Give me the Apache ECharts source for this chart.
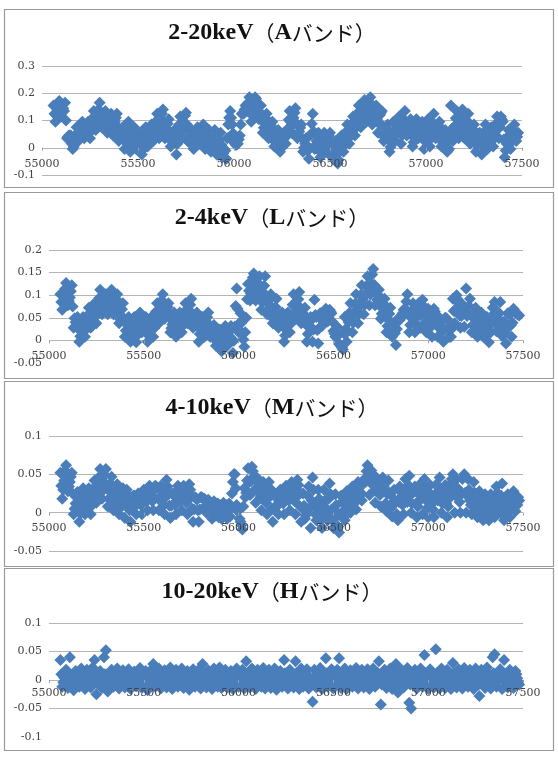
<!DOCTYPE html>
<html>
<head>
<meta charset="utf-8">
<script src="https://cdn.jsdelivr.net/npm/echarts@6/dist/echarts.min.js"></script>
<style>
  html, body { margin: 0; padding: 0; background: #fff; }
  #chart { width: 558px; height: 765px; }
</style>
</head>
<body>
<div id="chart"></div>
<script>
// observation days (MJD), one row per 100 days, shared by all four bands
const mjd = [
  55060,55065,55070,55075,55080,55085,55090,55095,55100,55105,55110,55115,55120,55125,55130,55135,55140,55145,55150,55155,
  55160,55165,55170,55175,55180,55185,55190,55195,55200,55205,55210,55215,55220,55225,55230,55235,55240,55245,55250,55255,
  55260,55265,55270,55275,55280,55285,55290,55295,55300,55305,55310,55315,55320,55325,55330,55335,55340,55345,55350,55355,
  55360,55365,55370,55375,55380,55385,55390,55395,55400,55405,55410,55415,55420,55425,55430,55435,55440,55445,55450,55455,
  55460,55465,55470,55475,55480,55485,55490,55495,55500,55505,55510,55515,55520,55525,55530,55535,55540,55545,55550,55555,
  55560,55565,55570,55575,55580,55585,55590,55595,55600,55605,55610,55615,55620,55625,55630,55635,55640,55645,55650,55655,
  55660,55665,55670,55675,55680,55685,55690,55695,55700,55705,55710,55715,55720,55725,55730,55735,55740,55745,55750,55755,
  55760,55765,55770,55775,55780,55785,55790,55795,55800,55805,55810,55815,55820,55825,55830,55835,55840,55845,55850,55855,
  55860,55865,55870,55875,55880,55885,55890,55895,55900,55905,55910,55915,55920,55925,55930,55935,55940,55945,55950,55955,
  55960,55965,55970,55975,55980,55985,55990,55995,56000,56005,56010,56015,56020,56025,56030,56035,56040,56045,56050,56055,
  56060,56065,56070,56075,56080,56085,56090,56095,56100,56105,56110,56115,56120,56125,56130,56135,56140,56145,56150,56155,
  56160,56165,56170,56175,56180,56185,56190,56195,56200,56205,56210,56215,56220,56225,56230,56235,56240,56245,56250,56255,
  56260,56265,56270,56275,56280,56285,56290,56295,56300,56305,56310,56315,56320,56325,56330,56335,56340,56345,56350,56355,
  56360,56365,56370,56375,56380,56385,56390,56395,56400,56405,56410,56415,56420,56425,56430,56435,56440,56445,56450,56455,
  56460,56465,56470,56475,56480,56485,56490,56495,56500,56505,56510,56515,56520,56525,56530,56535,56540,56545,56550,56555,
  56560,56565,56570,56575,56580,56585,56590,56595,56600,56605,56610,56615,56620,56625,56630,56635,56640,56645,56650,56655,
  56660,56665,56670,56675,56680,56685,56690,56695,56700,56705,56710,56715,56720,56725,56730,56735,56740,56745,56750,56755,
  56760,56765,56770,56775,56780,56785,56790,56795,56800,56805,56810,56815,56820,56825,56830,56835,56840,56845,56850,56855,
  56860,56865,56870,56875,56880,56885,56890,56895,56900,56905,56910,56915,56920,56925,56930,56935,56940,56945,56950,56955,
  56960,56965,56970,56975,56980,56985,56990,56995,57000,57005,57010,57015,57020,57025,57030,57035,57040,57045,57050,57055,
  57060,57065,57070,57075,57080,57085,57090,57095,57100,57105,57110,57115,57120,57125,57130,57135,57140,57145,57150,57155,
  57160,57165,57170,57175,57180,57185,57190,57195,57200,57205,57210,57215,57220,57225,57230,57235,57240,57245,57250,57255,
  57260,57265,57270,57275,57280,57285,57290,57295,57300,57305,57310,57315,57320,57325,57330,57335,57340,57345,57350,57355,
  57360,57365,57370,57375,57380,57385,57390,57395,57400,57405,57410,57415,57420,57425,57430,57435,57440,57445,57450,57455,
  57460,57465,57470,57475,57480
];

// 2-20keV (A band)
const bandA = [
  0.155,0.125,0.095,0.118,0.14,0.163,0.172,0.15,0.115,0.13,0.145,0.135,0.165,0.10,0.035,0.04,0.045,0.045,0.045,0.015,
  -0.005,0.003,0.02,0.048,0.075,0.05,0.025,0.045,0.065,0.08,0.095,0.065,0.035,0.053,0.07,0.083,0.095,0.065,0.035,0.06,
  0.085,0.11,0.135,0.10,0.065,0.09,0.115,0.14,0.165,0.12,0.075,0.09,0.105,0.12,0.135,0.095,0.055,0.073,0.09,0.108,
  0.125,0.085,0.045,0.07,0.095,0.11,0.125,0.075,0.025,0.04,0.055,0.045,0.075,0.035,-0.005,0.02,0.045,0.07,0.095,0.04,
  -0.015,0.008,0.03,0.053,0.075,0.035,-0.005,0.008,0.02,0.038,0.055,0.015,-0.025,-0.007,0.01,0.043,0.075,0.04,0.005,0.03,
  0.055,0.07,0.085,0.055,0.025,0.048,0.07,0.098,0.125,0.08,0.035,0.065,0.095,0.125,0.14,0.095,0.035,0.053,0.07,0.088,
  0.105,0.055,0.005,0.023,0.04,0.053,0.065,0.02,-0.025,0.015,0.055,0.085,0.115,0.075,0.035,0.063,0.09,0.118,0.128,0.085,
  0.025,0.02,0.045,0.035,0.065,0.03,-0.005,0.015,0.035,0.055,0.075,0.045,0.015,0.035,0.055,0.07,0.085,0.04,-0.005,0.008,
  0.02,0.043,0.065,0.025,-0.015,-0.002,0.01,0.038,0.065,0.02,-0.025,-0.013,0.0,0.028,0.055,0.01,-0.035,-0.02,-0.005,-0.01,
  -0.04,0.035,0.085,0.11,0.135,0.11,0.085,0.053,0.02,0.015,0.01,0.013,0.015,0.03,0.045,0.085,0.125,0.125,0.125,0.14,
  0.155,0.145,0.135,0.165,0.185,0.145,0.095,0.118,0.14,0.168,0.185,0.18,0.165,0.135,0.105,0.13,0.155,0.105,0.055,0.073,
  0.09,0.108,0.125,0.08,0.035,0.05,0.065,0.08,0.095,0.05,0.005,0.02,0.035,0.05,0.065,0.025,-0.015,-0.002,0.01,0.033,
  0.055,0.05,0.015,0.043,0.07,0.103,0.135,0.095,0.055,0.083,0.11,0.128,0.145,0.09,0.035,0.048,0.06,0.073,0.085,0.035,
  -0.015,0.0,0.015,0.035,0.035,-0.01,-0.04,-0.002,0.05,0.088,0.125,0.06,-0.005,0.01,0.025,0.04,0.055,0.01,-0.035,-0.02,
  -0.005,0.025,0.055,0.02,-0.015,0.008,0.03,0.043,0.055,0.01,-0.035,-0.02,-0.005,0.01,0.025,-0.025,-0.058,-0.045,-0.015,0.015,
  0.045,0.015,-0.015,0.01,0.035,0.06,0.085,0.05,0.015,0.04,0.065,0.09,0.115,0.08,0.045,0.073,0.10,0.128,0.155,0.115,
  0.075,0.103,0.13,0.153,0.175,0.135,0.095,0.123,0.15,0.168,0.185,0.135,0.085,0.103,0.12,0.138,0.155,0.105,0.055,0.088,
  0.12,0.128,0.135,0.08,0.025,0.038,0.05,0.068,0.085,0.035,-0.015,0.003,0.02,0.058,0.095,0.06,0.025,0.053,0.08,0.098,
  0.115,0.065,0.015,0.045,0.075,0.105,0.135,0.09,0.045,0.06,0.075,0.09,0.105,0.055,0.005,0.02,0.035,0.07,0.105,0.07,
  0.035,0.055,0.075,0.07,0.095,0.045,-0.005,0.023,0.05,0.078,0.105,0.055,0.005,0.033,0.06,0.093,0.125,0.08,0.035,0.053,
  0.07,0.083,0.095,0.05,0.005,0.02,0.035,0.05,0.065,0.025,-0.015,-0.01,-0.005,0.04,0.155,0.07,0.025,0.053,0.08,0.108,
  0.135,0.085,0.035,0.063,0.09,0.123,0.14,0.095,0.035,0.053,0.07,0.098,0.125,0.07,0.015,0.033,0.05,0.068,0.085,0.035,
  -0.015,0.008,0.03,0.043,0.055,0.015,-0.025,0.005,0.035,0.06,0.085,0.04,-0.005,0.008,0.02,0.048,0.075,0.04,0.005,0.033,
  0.06,0.088,0.115,0.075,0.035,0.075,0.115,0.105,0.095,0.03,-0.035,-0.01,0.015,0.04,0.065,0.03,-0.005,0.02,0.045,0.065,
  0.085,0.055,0.025,0.04,0.055
];

// 2-4keV (L band)
const bandL = [
  0.102,0.085,0.068,0.084,0.10,0.114,0.127,0.103,0.078,0.087,0.095,0.109,0.122,0.075,0.028,0.049,0.04,0.031,0.052,0.025,
  -0.003,0.009,0.02,0.036,0.052,0.03,0.008,0.024,0.04,0.056,0.072,0.05,0.028,0.042,0.055,0.069,0.082,0.06,0.038,0.057,
  0.075,0.094,0.112,0.085,0.058,0.072,0.085,0.094,0.102,0.08,0.058,0.069,0.08,0.096,0.112,0.085,0.058,0.069,0.08,0.091,
  0.102,0.07,0.038,0.047,0.055,0.069,0.082,0.045,0.008,0.022,0.035,0.044,0.052,0.025,-0.003,0.011,0.025,0.039,0.052,0.024,
  -0.004,0.011,0.025,0.044,0.062,0.04,0.018,0.032,0.045,0.049,0.052,0.025,-0.003,0.011,0.025,0.039,0.052,0.03,0.008,0.027,
  0.045,0.064,0.082,0.06,0.038,0.057,0.075,0.089,0.102,0.075,0.048,0.057,0.065,0.074,0.082,0.05,0.018,0.027,0.035,0.049,
  0.062,0.035,0.008,0.022,0.035,0.049,0.062,0.04,0.018,0.032,0.045,0.064,0.082,0.06,0.038,0.052,0.065,0.079,0.092,0.06,
  0.028,0.037,0.045,0.054,0.062,0.03,-0.003,0.014,0.03,0.041,0.052,0.03,0.008,0.024,0.04,0.051,0.062,0.035,0.008,0.014,
  0.02,0.027,0.034,0.011,-0.012,-0.003,0.005,0.015,0.024,0.0,-0.024,-0.007,0.01,0.021,0.032,0.01,-0.012,-0.001,0.01,0.021,
  0.032,0.0,-0.028,-0.001,0.03,0.076,0.115,0.07,0.018,0.039,0.06,0.039,0.017,0.002,-0.014,0.018,0.05,0.091,0.125,0.11,
  0.088,0.104,0.12,0.139,0.148,0.123,0.088,0.099,0.11,0.126,0.142,0.105,0.068,0.084,0.10,0.121,0.142,0.10,0.058,0.069,
  0.08,0.091,0.102,0.07,0.038,0.047,0.055,0.074,0.092,0.06,0.028,0.037,0.045,0.054,0.062,0.03,-0.003,0.011,0.025,0.044,
  0.062,0.04,0.018,0.037,0.055,0.079,0.102,0.075,0.048,0.062,0.075,0.091,0.107,0.073,0.038,0.049,0.06,0.051,0.072,0.035,
  -0.003,0.014,0.03,0.041,0.052,0.025,-0.003,0.024,0.09,0.056,0.052,0.023,-0.007,0.027,0.06,0.046,0.032,0.035,0.038,0.054,
  0.07,0.056,0.042,0.055,0.068,0.064,0.06,0.041,0.021,0.015,0.008,0.019,0.03,0.011,-0.008,-0.01,-0.012,-0.016,-0.02,0.016,
  0.052,0.025,-0.003,0.019,0.04,0.061,0.082,0.05,0.018,0.039,0.06,0.081,0.102,0.07,0.038,0.059,0.08,0.101,0.122,0.09,
  0.058,0.079,0.10,0.121,0.142,0.11,0.078,0.102,0.125,0.146,0.158,0.123,0.078,0.104,0.09,0.101,0.112,0.08,0.048,0.059,
  0.07,0.081,0.092,0.055,0.018,0.032,0.045,0.059,0.072,0.04,0.008,0.019,0.03,0.016,-0.01,0.025,0.048,0.047,0.045,0.049,
  0.052,0.06,0.068,0.069,0.07,0.086,0.102,0.06,0.018,0.034,0.05,0.066,0.082,0.05,0.018,0.037,0.055,0.069,0.082,0.055,
  0.028,0.059,0.09,0.076,0.062,0.04,0.018,0.044,0.07,0.061,0.052,0.03,0.008,0.039,0.07,0.064,0.057,0.033,0.008,0.029,
  0.05,0.046,0.042,0.02,-0.003,0.024,0.05,0.049,0.047,0.028,0.008,0.008,0.008,0.026,0.092,0.065,0.038,0.069,0.10,0.091,
  0.082,0.055,0.028,0.054,0.08,0.061,0.03,0.06,0.115,0.054,0.06,0.076,0.092,0.055,0.018,0.034,0.05,0.061,0.072,0.04,
  0.008,0.022,0.035,0.049,0.062,0.035,0.008,0.017,0.025,0.039,0.052,0.024,-0.004,0.016,0.035,0.054,0.072,0.073,0.085,0.044,
  0.02,0.034,0.047,0.06,0.085,0.042,0.01,0.026,0.042,0.018,-0.007,0.027,0.06,0.059,0.057,0.033,0.008,0.039,0.07,0.066,
  0.062,0.06,0.058,0.057,0.055
];

// 4-10keV (M band)
const bandM = [
  0.052,0.035,0.018,0.03,0.042,0.055,0.062,0.048,0.028,0.034,0.04,0.047,0.052,0.025,-0.002,0.005,0.012,0.02,0.027,0.008,
  -0.012,-0.001,0.01,0.022,0.032,0.015,-0.002,0.006,0.015,0.024,0.032,0.015,-0.002,0.009,0.02,0.032,0.042,0.028,0.013,0.024,
  0.035,0.047,0.057,0.038,0.018,0.029,0.04,0.049,0.057,0.033,0.008,0.018,0.028,0.038,0.047,0.025,0.003,0.012,0.022,0.03,
  0.037,0.018,-0.002,0.006,0.015,0.024,0.032,0.013,-0.007,0.011,0.03,0.024,0.017,0.003,-0.012,0.004,0.02,0.022,0.022,0.01,
  -0.002,0.011,0.025,0.024,0.022,0.01,-0.002,0.014,0.03,0.029,0.027,0.015,0.003,0.019,0.035,0.032,0.027,0.015,0.003,0.019,
  0.035,0.034,0.032,0.018,0.003,0.019,0.035,0.029,0.022,0.01,-0.002,0.02,0.043,0.034,0.025,0.009,-0.007,0.009,0.025,0.024,
  0.022,0.01,-0.002,0.016,0.035,0.032,0.027,0.015,0.003,0.019,0.035,0.032,0.029,0.013,-0.002,0.017,0.037,0.03,0.022,0.005,
  -0.012,0.004,0.02,0.019,0.017,0.003,-0.012,0.004,0.02,0.02,0.019,0.018,0.018,0.009,0.0,0.009,0.017,0.013,0.008,0.001,
  -0.008,0.006,0.015,0.01,-0.004,0.001,0.012,-0.006,0.01,0.003,-0.008,0.008,0.013,-0.004,0.003,0.01,-0.008,0.002,0.012,-0.005,
  0.008,0.025,0.04,0.05,0.05,0.032,0.01,0.002,0.006,-0.008,-0.012,-0.016,-0.022,0.008,0.032,0.02,0.026,0.042,0.058,0.04,
  0.023,0.041,0.06,0.054,0.047,0.03,0.013,0.029,0.045,0.042,0.037,0.02,0.003,0.021,0.04,0.034,0.027,0.013,-0.002,0.019,
  0.04,0.032,0.022,0.005,-0.012,0.006,0.025,0.023,0.019,0.009,-0.002,0.014,0.03,0.028,0.025,0.012,-0.002,0.016,0.035,0.033,
  0.029,0.016,0.003,0.021,0.04,0.037,0.032,0.015,-0.002,0.02,0.043,0.036,0.027,0.008,-0.012,0.006,0.025,0.009,-0.008,-0.003,
  0.005,0.022,0.034,0.006,-0.02,0.016,0.046,0.03,0.008,-0.002,-0.01,0.012,0.03,0.018,0.002,-0.01,-0.02,0.006,0.03,0.016,
  0.006,-0.004,-0.01,0.018,0.038,0.024,0.004,-0.01,-0.02,0.003,0.024,0.01,-0.004,-0.018,-0.026,-0.002,0.022,0.014,0.002,-0.006,
  -0.01,0.012,0.028,0.02,0.006,0.01,0.0,0.02,0.034,0.024,0.012,0.016,0.004,0.025,0.04,0.032,0.022,0.026,0.016,0.038,
  0.043,0.041,0.04,0.054,0.062,0.045,0.023,0.039,0.055,0.051,0.045,0.029,0.013,0.029,0.045,0.042,0.037,0.023,0.008,0.026,
  0.046,0.034,0.03,0.012,0.002,0.024,0.042,0.026,0.024,0.006,-0.005,0.014,0.03,0.016,0.014,-0.002,-0.01,0.014,0.034,0.02,
  0.026,0.01,-0.002,0.024,0.044,0.03,0.014,0.036,0.048,0.024,0.0,0.012,0.026,0.028,0.034,0.012,-0.006,0.008,0.024,0.03,
  0.038,0.018,-0.002,0.024,0.044,0.03,0.016,0.006,-0.006,0.016,0.036,0.024,0.012,0.004,-0.006,0.016,0.036,0.026,0.016,0.034,
  0.046,0.022,0.0,0.012,0.022,0.028,0.036,0.012,-0.006,0.008,0.018,0.028,0.038,0.044,0.05,0.026,0.0,0.022,0.044,0.032,
  0.03,0.014,0.0,0.024,0.044,0.046,0.05,0.026,0.0,0.022,0.044,0.03,0.016,0.01,-0.002,0.02,0.04,0.026,0.012,0.004,
  -0.006,0.014,0.028,0.018,0.004,-0.002,-0.01,0.008,0.024,0.014,0.0,-0.004,-0.01,0.008,0.024,0.018,0.01,0.004,-0.006,0.016,
  0.034,0.026,0.02,0.01,0.0,0.022,0.038,0.014,-0.01,0.0,0.008,0.016,0.024,0.008,-0.006,0.006,0.016,0.022,0.028,0.014,
  0.002,0.012,0.01,0.02,0.016
];

// 10-20keV (H band)
const bandH = [
  0.035,0.01,-0.012,-0.004,0.004,0.012,0.018,0.005,-0.014,-0.006,0.04,0.008,0.002,-0.008,-0.018,0.0,0.016,0.011,0.005,-0.005,
  -0.012,0.006,0.02,0.009,-0.004,-0.01,-0.016,0.002,0.018,0.01,0.003,-0.005,-0.013,0.007,0.022,0.012,0.035,0.0,-0.025,-0.006,
  0.006,0.011,0.016,0.003,-0.014,-0.006,0.04,0.01,0.052,0.005,-0.02,-0.008,0.004,0.012,0.018,0.004,-0.012,-0.005,0.002,0.009,
  0.02,0.004,-0.015,-0.006,0.005,0.012,0.017,0.002,-0.013,-0.005,0.003,0.01,0.019,0.003,-0.016,-0.007,0.006,0.011,0.015,-0.002,
  -0.011,-0.003,0.002,0.012,0.021,0.006,-0.014,-0.005,0.004,0.01,0.016,0.0,-0.018,-0.007,0.003,0.011,0.018,0.006,0.028,0.004,
  -0.012,-0.004,0.005,0.013,0.02,0.003,-0.015,-0.006,0.002,0.01,0.017,0.002,-0.013,-0.005,0.004,0.012,0.022,0.004,-0.016,-0.006,
  0.003,0.011,0.018,0.004,-0.012,-0.004,0.006,0.013,0.02,0.005,-0.014,-0.006,0.002,0.009,0.016,0.0,-0.017,-0.006,0.004,0.012,
  0.019,0.004,-0.012,-0.005,0.003,0.011,0.018,0.002,-0.015,0.006,0.028,0.012,0.005,-0.004,-0.013,0.003,0.017,0.009,0.002,-0.007,
  -0.016,0.002,0.02,0.012,0.004,-0.005,-0.012,0.006,0.022,0.004,-0.014,-0.006,0.003,0.011,0.018,0.003,-0.013,-0.004,0.005,0.01,
  0.016,0.003,-0.016,-0.006,0.002,0.012,0.02,0.005,-0.012,-0.004,0.006,0.012,0.018,0.002,-0.015,0.006,0.033,0.01,0.004,-0.005,
  -0.013,0.004,0.02,0.01,0.002,-0.006,-0.016,0.002,0.018,0.011,0.005,-0.004,-0.012,0.006,0.021,0.004,-0.015,-0.006,0.003,0.011,
  0.018,0.003,-0.014,-0.004,0.004,0.012,0.02,0.002,-0.017,-0.007,0.002,0.01,0.016,0.004,-0.012,0.008,0.035,0.012,0.004,-0.005,
  -0.015,0.002,0.018,0.01,0.003,-0.005,-0.013,0.008,0.033,0.012,0.005,-0.006,-0.016,0.003,0.02,0.005,-0.012,-0.003,0.004,0.012,
  0.019,0.004,-0.015,-0.006,0.002,-0.008,-0.038,0.003,0.018,0.004,-0.013,-0.004,0.005,0.012,0.021,0.003,-0.016,-0.006,0.003,0.01,
  0.038,0.012,-0.012,-0.004,0.004,0.011,0.019,0.003,-0.015,-0.006,0.002,0.01,0.018,0.008,0.038,0.012,-0.014,-0.005,0.005,0.011,
  0.02,0.004,-0.016,-0.006,0.003,0.01,0.017,0.003,-0.012,-0.004,0.004,0.012,0.021,0.005,-0.015,-0.006,0.002,0.01,0.018,0.002,
  -0.013,-0.004,0.005,0.012,0.019,0.004,-0.016,-0.006,0.003,0.011,0.02,0.004,-0.012,-0.005,0.004,0.012,0.033,0.006,-0.043,-0.008,
  0.002,0.01,0.018,0.004,-0.014,-0.005,0.005,0.012,0.02,0.003,-0.016,-0.006,0.003,0.011,0.028,0.006,-0.022,-0.008,0.004,0.012,
  0.018,0.003,-0.013,-0.005,0.002,0.011,0.021,0.006,-0.04,-0.008,-0.05,-0.006,0.005,0.012,0.018,0.004,-0.015,-0.006,0.003,0.011,
  0.02,0.004,-0.012,0.01,0.044,0.012,0.004,-0.005,-0.016,0.002,0.019,0.01,0.002,-0.005,-0.013,0.006,0.054,0.012,0.005,-0.006,
  -0.015,0.003,0.02,0.011,0.003,-0.005,-0.014,0.004,0.018,0.011,0.004,-0.005,-0.016,0.006,0.03,0.012,0.002,-0.004,-0.013,0.004,
  0.019,0.012,0.005,-0.005,-0.015,0.004,0.021,0.012,0.003,-0.005,-0.012,0.004,0.018,0.011,0.004,-0.006,-0.016,0.003,0.02,0.012,
  0.002,-0.008,-0.028,0.002,0.018,0.011,0.005,-0.004,-0.014,0.004,0.022,0.012,0.003,-0.005,-0.015,0.006,0.04,0.012,0.045,0.008,
  -0.012,-0.003,0.004,0.012,0.019,0.004,-0.016,0.006,0.035,0.01,0.002,-0.005,-0.013,0.004,0.018,0.012,0.005,-0.004,-0.014,0.003,
  0.016,0.01,0.003,-0.003,-0.008
];

const bands = [bandA, bandL, bandM, bandH];
const titles = [
  ['2-20keV', 'A'],
  ['2-4keV', 'L'],
  ['4-10keV', 'M'],
  ['10-20keV', 'H']
];
// y axis [min, max, interval] per panel
const yRanges = [
  [-0.1, 0.3, 0.1],
  [-0.05, 0.2, 0.05],
  [-0.05, 0.1, 0.05],
  [-0.1, 0.1, 0.05]
];

// layout of the four stacked panels
const grids = [
  { left: 42, top: 66, width: 480, height: 109 },
  { left: 49, top: 250, width: 474, height: 113 },
  { left: 49, top: 436, width: 474, height: 115 },
  { left: 49, top: 623, width: 474, height: 114 }
];
const labelMargins = [11, 10, 10, 8];
const boxes = [[4, 9, 549, 178], [4, 192, 549, 186], [4, 381, 549, 185], [4, 568, 549, 182]];
const titleY = [33, 218, 408, 592];

const labelFont = { fontFamily: 'DejaVu Serif', fontSize: 11, color: '#444' };
const titleRich = {
  a: { fontFamily: 'Liberation Serif', fontWeight: 'bold', fontSize: 24, fill: '#111' },
  b: { fontFamily: 'Noto Sans CJK JP', fontSize: 21, fill: '#111' }
};

const graphic = [];
boxes.forEach(b => {
  graphic.push({
    type: 'rect', silent: true,
    shape: { x: b[0] + 0.5, y: b[1] + 0.5, width: b[2], height: b[3] },
    style: { fill: null, stroke: '#9a9a9a', lineWidth: 1.2 }
  });
});
titles.forEach((t, i) => {
  graphic.push({
    type: 'text', silent: true, x: 272, y: titleY[i],
    style: {
      text: '{a|' + t[0] + '}{b|（}{a|' + t[1] + '}{b|バンド）}',
      rich: titleRich, align: 'center', verticalAlign: 'middle'
    }
  });
});

const chart = echarts.init(document.getElementById('chart'));

chart.setOption({
  animation: false,
  backgroundColor: '#fff',
  grid: grids,
  graphic: graphic,
  xAxis: grids.map((g, i) => {
    const r = yRanges[i];
    return {
      gridIndex: i,
      type: 'value',
      min: 55000,
      max: 57500,
      interval: 500,
      z: 10,
      position: 'bottom',
      // lift the labels up to the y = 0 line (Excel style crossing)
      offset: -g.height * (0 - r[0]) / (r[1] - r[0]),
      axisLine: { show: false, onZero: false },
      axisTick: { show: true, length: 3, lineStyle: { color: '#a0a0a0' } },
      axisLabel: Object.assign({ margin: labelMargins[i], formatter: v => String(v) }, labelFont),
      splitLine: { show: false }
    };
  }),
  yAxis: yRanges.map((r, i) => ({
    gridIndex: i,
    type: 'value',
    min: r[0],
    max: r[1],
    interval: r[2],
    axisLine: { show: false },
    axisTick: { show: false },
    axisLabel: Object.assign({ margin: 7 }, labelFont),
    splitLine: {
      show: true,
      showMinLine: !(i === 1 || i === 3),
      lineStyle: { color: '#b4b4b4', width: 1 }
    }
  })),
  series: bands.map((b, i) => ({
    type: 'scatter',
    xAxisIndex: i,
    yAxisIndex: i,
    symbol: 'diamond',
    symbolSize: 12,
    silent: true,
    itemStyle: { color: '#4A7EBB', opacity: 1 },
    data: mjd.map((t, k) => [t, b[k]])
  }))
});

window.addEventListener('resize', () => chart.resize());
</script>
</body>
</html>
